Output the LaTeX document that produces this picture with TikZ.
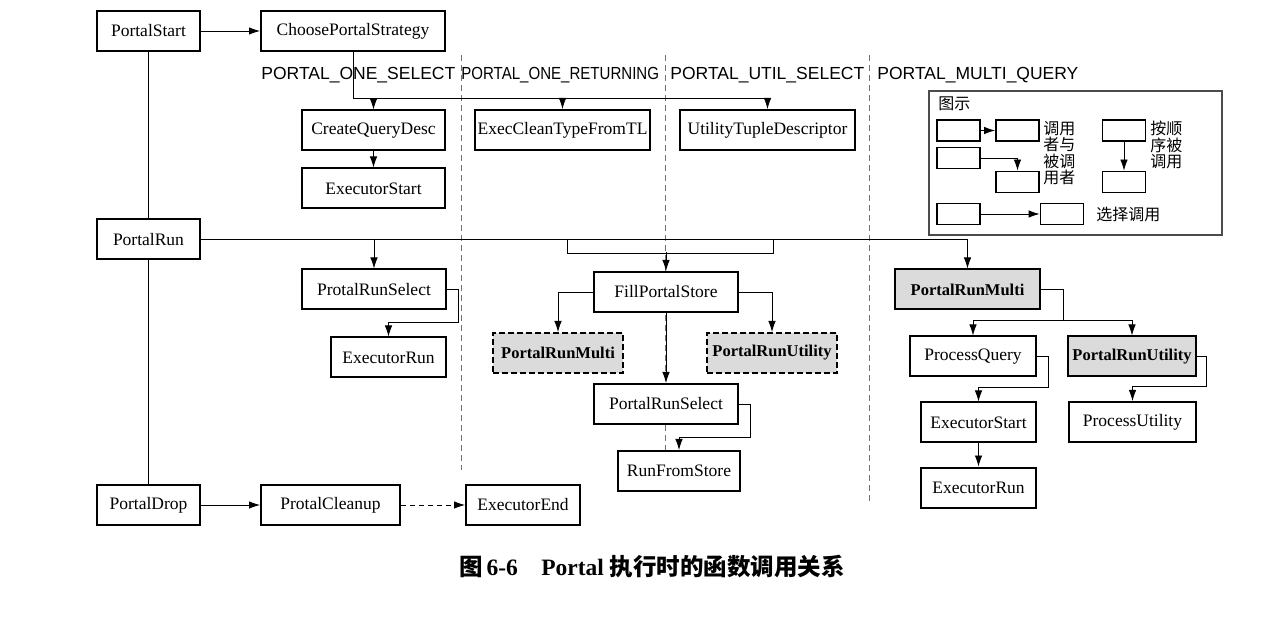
\documentclass[tikz,border=0pt]{standalone}
\usepackage{fontspec}
\setmainfont{Liberation Serif}
\newfontfamily\cjk{Noto Sans CJK SC}
\newfontfamily\capsfont{Liberation Sans}
\usetikzlibrary{arrows.meta,positioning}

\begin{document}
\begin{tikzpicture}[>={Latex[length=11pt,width=7.5pt]}, ->, x=1pt, y=-1pt, line width=0.8pt,
		fn/.style={draw, -, line width=2pt, fill=white, minimum height=40pt, inner sep=0pt, font=\fontsize{17.5}{20}\selectfont},
		grayfn/.style={fn, fill=gray!28, font=\fontsize{16.5}{20}\selectfont\bfseries},
		optfn/.style={grayfn, dashed, dash pattern=on 6pt off 3pt},
		divider/.style={-, black!55, dash pattern=on 6pt off 4pt},
		kind/.style={anchor=west, inner sep=0pt, font=\capsfont\fontsize{17.5}{20}\selectfont},
		keybox/.style={draw, -, line width=1.8pt, minimum width=43pt, minimum height=21pt, inner sep=0pt},
		keytext/.style={inner sep=0pt, align=left, font=\cjk\fontsize{16}{16.5}\selectfont}]
		\useasboundingbox (0,0) rectangle (1280,617);

		\draw[divider] (461,55) -- (461,470);
		\draw[divider] (665,55) -- (665,451);
		\draw[divider] (869,55) -- (869,502);

		\node[kind] (kone) at (261,75) {PORTAL\_ONE\_SELECT};
		\node[kind] (kret) at (461,75) {\scalebox{0.86}[1]{PORTAL\_ONE\_RETURNING}};
		\node[kind] (kutil) at (670,75) {PORTAL\_UTIL\_SELECT};
		\node[kind] (kmulti) at (877,75) {PORTAL\_MULTI\_QUERY};

		\node[fn, minimum width=103pt] (pstart) at (148.5,31) {PortalStart};
		\node[fn, minimum width=184pt] (choose) at (353,31) {ChoosePortalStrategy};
		\node[fn, minimum width=143pt] (cqd) at (373.5,130.5) {CreateQueryDesc};
		\node[fn, minimum width=143pt] (estart) at (373.5,188.5) {ExecutorStart};
		\node[fn, minimum width=175pt] (eclean) at (562.5,130) {ExecCleanTypeFromTL};
		\node[fn, minimum width=175pt] (utd) at (767.5,130) {UtilityTupleDescriptor};

		\node[fn, minimum width=103pt] (prun) at (148.5,239.5) {PortalRun};
		\node[fn, minimum width=144pt] (prsel) at (374,289.5) {ProtalRunSelect};
		\node[fn, minimum width=115pt] (erun) at (388.5,357.5) {ExecutorRun};
		\node[fn, minimum width=144pt] (fill) at (666,292) {FillPortalStore};
		\node[optfn, minimum width=130pt] (prmulti) at (558,353) {PortalRunMulti};
		\node[optfn, minimum width=130pt] (prutil) at (772,353) {PortalRunUtility};
		\node[fn, minimum width=144pt] (pselect) at (666,404) {PortalRunSelect};
		\node[fn, minimum width=122pt] (rfs) at (679,471) {RunFromStore};
		\node[grayfn, minimum width=145pt] (multi) at (967.5,289.5) {PortalRunMulti};
		\node[fn, minimum width=126pt] (pq) at (973,356.5) {ProcessQuery};
		\node[grayfn, minimum width=128pt] (util) at (1132,356.5) {PortalRunUtility};
		\node[fn, minimum width=115pt] (estart2) at (978.5,422.5) {ExecutorStart};
		\node[fn, minimum width=127pt] (putil) at (1132.5,422) {ProcessUtility};
		\node[fn, minimum width=115pt] (erun2) at (978.5,487.5) {ExecutorRun};

		\node[fn, minimum width=103pt] (pdrop) at (148.5,505) {PortalDrop};
		\node[fn, minimum width=139pt] (pclean) at (330.5,505) {ProtalCleanup};
		\node[fn, minimum width=114pt] (eend) at (523,505) {ExecutorEnd};

		\draw (pstart) -- (choose);
		\draw[-] (pstart) -- (prun);
		\draw[-] (prun) -- (pdrop);
		\draw (choose.south) -- ++(0,46) -| (utd.north);
		\draw (choose.south) ++(0,46) -| (cqd.north);
		\draw (choose.south) ++(0,46) -| (eclean.north);
		\draw (cqd) -- (estart);

		\draw (prun.east) -| (multi.north);
		\draw (prun.east) -| (prsel.north);
		\draw (prsel.east) -| ++(11,32.5) -| (erun.north);
		\coordinate (brL) at (567,239.5);
		\coordinate (brR) at (773,239.5);
		\draw[-] (brL) -- ++(0,14) -| (brR);
		\draw (fill.north) ++(0,-19) -- (fill.north);
		\draw (fill.west) -| (prmulti.north);
		\draw (fill.east) -| (prutil.north);
		\draw (fill) -- (pselect);
		\draw (pselect.east) -| ++(11,33) -| (rfs.north);
		\draw (multi.east) -| ++(22,30.5) -| (pq.north);
		\draw (multi.east) ++(22,30.5) -| (util.north);
		\draw (pq.east) -| ++(11,31) -| (estart2.north);
		\draw (util.east) -| ++(9,30) -| (putil.north);
		\draw (estart2) -- (erun2);

		\draw (pdrop) -- (pclean);
		\draw[dashed, dash pattern=on 5pt off 4pt] (pclean) -- (eend);

		\draw[-, line width=1.4pt, black!70] (929,91) rectangle (1222,235);
		\node[keytext, anchor=west] (keytitle) at (938,104) {图示};
		\node[keybox] (ka) at (958.5,130.5) {};
		\node[keybox] (kb) at (1017.5,130.5) {};
		\node[keybox] (kc) at (958.5,158) {};
		\node[keybox] (kd) at (1017.5,182) {};
		\node[keybox] (ke) at (1124,130.5) {};
		\node[keybox] (kf) at (1124,182) {};
		\node[keybox] (kg) at (958.5,214) {};
		\node[keybox] (kh) at (1062,214) {};
		\draw (ka) -- (kb);
		\draw (kc.east) -| (kd.north);
		\draw (ke) -- (kf);
		\draw (kg) -- (kh);
		\node[keytext, anchor=north west] (kcall) at (1043,121) {调用\\者与\\被调\\用者};
		\node[keytext, anchor=north west] (korder) at (1150,121) {按顺\\序被\\调用};
		\node[keytext, anchor=west] (kselect) at (1096,214) {选择调用};

		\node[inner sep=0pt, font=\fontsize{23.5}{25}\selectfont\bfseries] (caption) at (652,567) {{\cjk 图}\,6-6\quad Portal {\cjk 执行时的函数调用关系}};
	\end{tikzpicture}
\end{document}
